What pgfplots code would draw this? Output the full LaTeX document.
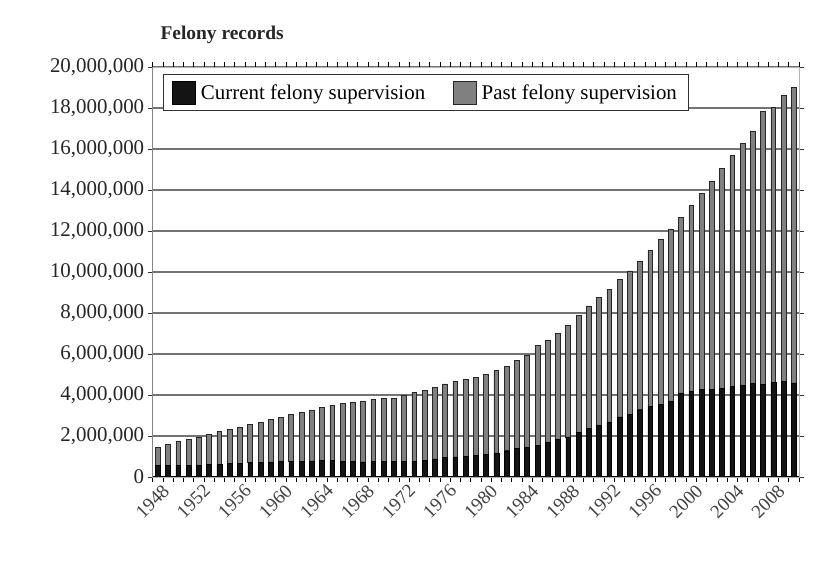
\documentclass[border=0pt]{standalone}
\usepackage{pgfplots}
\pgfplotsset{compat=1.18}
\usepackage{pgfplotstable}
\usepackage{fontspec}
\setmainfont{Liberation Serif}

\pgfplotstableread{
year current past
1948 550000 880000
1949 560000 1030000
1950 570000 1190000
1951 570000 1280000
1952 580000 1370000
1953 600000 1480000
1954 630000 1580000
1955 650000 1680000
1956 670000 1770000
1957 700000 1850000
1958 720000 1950000
1959 740000 2060000
1960 750000 2160000
1961 760000 2280000
1962 770000 2380000
1963 790000 2480000
1964 800000 2580000
1965 800000 2700000
1966 780000 2810000
1967 780000 2880000
1968 740000 2970000
1969 760000 3030000
1970 760000 3090000
1971 760000 3060000
1972 770000 3210000
1973 780000 3330000
1974 820000 3420000
1975 880000 3490000
1976 950000 3590000
1977 980000 3670000
1978 1000000 3750000
1979 1060000 3790000
1980 1090000 3900000
1981 1180000 4010000
1982 1280000 4120000
1983 1380000 4290000
1984 1460000 4490000
1985 1540000 4880000
1986 1700000 4990000
1987 1830000 5190000
1988 1960000 5450000
1989 2160000 5730000
1990 2370000 5980000
1991 2530000 6240000
1992 2690000 6480000
1993 2930000 6700000
1994 3070000 6980000
1995 3280000 7240000
1996 3450000 7590000
1997 3530000 8050000
1998 3690000 8410000
1999 4100000 8550000
2000 4180000 9070000
2001 4260000 9590000
2002 4290000 10130000
2003 4330000 10710000
2004 4420000 11250000
2005 4470000 11790000
2006 4550000 12330000
2007 4520000 13320000
2008 4620000 13410000
2009 4680000 13920000
2010 4590000 14430000
}\felony

\begin{document}
\begin{tikzpicture}
\useasboundingbox (0,0) rectangle (835bp,569bp);
\node[anchor=west, font=\bfseries\fontsize{19.5}{22}\selectfont, text=black!85] at (157bp,534bp) {Felony records};
\begin{axis}[
  at={(152.7bp,92bp)}, anchor=south west,
  scale only axis, width=646.3bp, height=410bp,
  ybar stacked, bar width=4.8bp,
  xmin=1947.5, xmax=2010.5, ymin=0, ymax=20000000,
  xtick={1948,1952,...,2008},
  xticklabels={1948,1952,1956,1960,1964,1968,1972,1976,1980,1984,1988,1992,1996,2000,2004,2008},
  minor xtick={1947.5,1948.5,...,2010.5},
  major x tick style={draw=none},
  minor x tick style={black, line width=0.8pt},
  tick align=outside,
  minor tick length=5bp,
  major tick length=5bp,
  ytick={0,2000000,4000000,6000000,8000000,10000000,12000000,14000000,16000000,18000000,20000000},
  major y tick style={black!80, line width=0.8pt},
  scaled y ticks=false,
  /pgf/number format/assume math mode=true,
  yticklabel style={/pgf/number format/fixed, /pgf/number format/1000 sep={,}, font=\fontsize{21}{21}\selectfont, text=black!85},
  xticklabel style={rotate=45, anchor=north east, font=\fontsize{19}{19}\selectfont, text=black!75, xshift=5bp},
  ymajorgrids, grid style={black!55, line width=1.1pt},
  axis line style={black!30, line width=0.7pt},
  legend columns=2,
  legend style={at={(0.016,0.982)}, anchor=north west, draw=black!80, line width=0.8pt, fill=white,
    font=\fontsize{21}{24}\selectfont, inner xsep=9bp, inner ysep=6bp,
    /tikz/every odd column/.append style={column sep=3bp},
    /tikz/every even column/.append style={column sep=26bp}},
  legend image code/.code={\draw[#1, line width=0.5pt] (0bp,-11bp) rectangle (23bp,12bp);},
]
\addplot[fill=black!92, draw=black, line width=0.5pt] table[x=year, y=current]{\felony};
\addplot[fill=black!50, draw=black!85, line width=0.6pt] table[x=year, y=past]{\felony};
\legend{Current felony supervision, Past felony supervision}
\draw[black!80, line width=1.4pt] (rel axis cs:0,0) -- (rel axis cs:0,1);
\draw[black, line width=1.6pt] (rel axis cs:0,0) -- (rel axis cs:1,0);
\end{axis}
\end{tikzpicture}
\end{document}
